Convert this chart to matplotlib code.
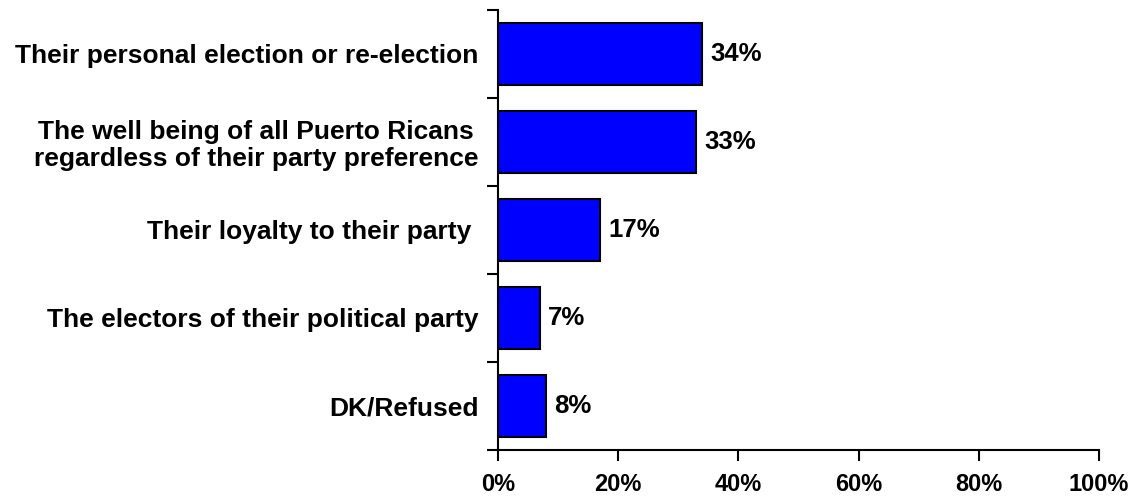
import matplotlib.pyplot as plt
import numpy as np

plt.rcParams['font.family'] = ['Liberation Sans', 'DejaVu Sans']
plt.rcParams['font.weight'] = 'bold'

categories = [
    "Their personal election or re-election",
    "The well being of all Puerto Ricans\nregardless of their party preference",
    "Their loyalty to their party ",
    "The electors of their political party",
    "DK/Refused",
]
values = [34, 33, 17, 7, 8]
xticks = [0, 20, 40, 60, 80, 100]
xtick_labels = ["0%", "20%", "40%", "60%", "80%", "100%"]

fig = plt.figure(figsize=(11.38, 4.97), dpi=100)
ax = fig.add_axes([0.4376, 0.0946, 0.528, 0.8853])

y = np.arange(len(categories))[::-1]
ax.barh(y, values, height=0.7, color="#0000FF", edgecolor="black", linewidth=1.5)

# value labels
for yi, v in zip(y, values):
    ax.text(v + 1.3, yi, f"{v}%", va="center", ha="left", fontsize=18.5, fontweight="bold")

ax.set_xlim(0, 100)
ax.set_ylim(-0.5, len(categories) - 0.5)

ax.set_xticks(xticks)
ax.set_xticklabels(xtick_labels, fontsize=17, fontweight="bold")
ax.tick_params(axis="x", direction="out", length=8, width=1.5, pad=8.5)

ax.set_yticks(y)
ax.set_yticklabels(categories, fontsize=19, fontweight="bold", ha="right")
ax.tick_params(axis="y", which="major", length=0, pad=14)
ax.set_yticks(np.arange(-0.5, len(categories), 1.0), minor=True)
ax.tick_params(axis="y", which="minor", direction="out", length=8, width=1.5)

for lbl in ax.get_yticklabels():
    lbl.set_multialignment("center")
    lbl.set_linespacing(1.15)

ax.spines["top"].set_visible(False)
ax.spines["right"].set_visible(False)
ax.spines["left"].set_linewidth(1.5)
ax.spines["bottom"].set_linewidth(1.5)

fig.savefig("out.png", dpi=100)
